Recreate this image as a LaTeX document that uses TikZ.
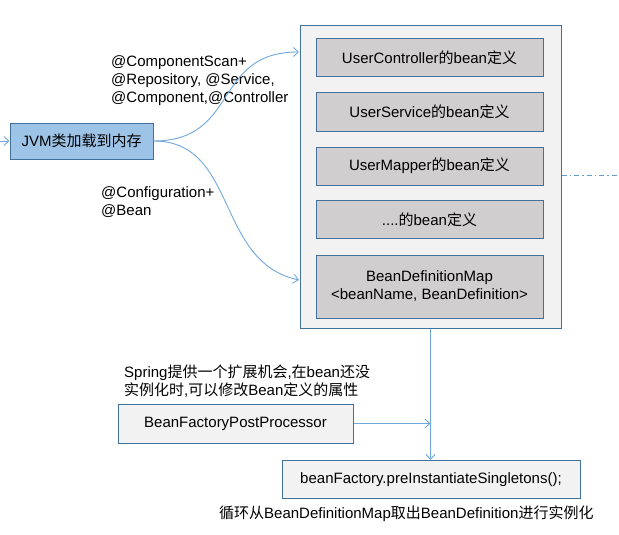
\documentclass[tikz,border=0pt]{standalone}
\usepackage{fontspec}
\setmainfont{Liberation Sans}
\newfontfamily\cjk{Noto Sans CJK SC}
\newcommand{\zh}[1]{{\cjk #1}}
\usetikzlibrary{arrows.meta}

\definecolor{boxline}{HTML}{41719C}
\definecolor{flowblue}{HTML}{6FA8DC}
\definecolor{jvmfill}{HTML}{9DC3E6}
\definecolor{panel}{HTML}{F2F2F2}
\definecolor{defgray}{HTML}{D0CECE}

\tikzset{
  box/.style={draw=boxline, line width=1pt, fill=panel, inner sep=0pt, align=center, font=\fontsize{15}{18}\selectfont},
  defbox/.style={box, fill=defgray, minimum width=227pt, minimum height=38pt},
  flow/.style={draw=flowblue, line width=0.9pt, ->},
  note/.style={inner sep=0pt, align=left, font=\fontsize{15}{18}\selectfont}
}

\begin{document}
\begin{tikzpicture}[x=1pt, y=-1pt, >={Straight Barb[length=5pt,width=9pt]}]
\useasboundingbox (0,0) rectangle (619,535);
\node [box, fill=jvmfill, minimum width=143pt, minimum height=36pt, name=jvm] at (81.5,141) {JVM\zh{类加载到内存}};
\node [box, minimum width=261pt, minimum height=302pt, name=beans] at (430.5,177) {};
\node [defbox, name=ctrldef] at (429.5,58) {UserController\zh{的}bean\zh{定义}};
\node [defbox, name=servdef] at (429.5,112) {UserService\zh{的}bean\zh{定义}};
\node [defbox, name=mapperdef] at (429.5,166) {UserMapper\zh{的}bean\zh{定义}};
\node [defbox, name=moredef] at (429.5,219.5) {....\zh{的}bean\zh{定义}};
\node [defbox, minimum height=63pt, name=defmap] at (429.5,286.5) {BeanDefinitionMap\\<beanName, BeanDefinition>};
\node [box, minimum width=235pt, minimum height=39pt, name=postproc] at (235.5,423.5) {BeanFactoryPostProcessor};
\node [box, minimum width=298pt, minimum height=38pt, name=preinst] at (431,479.5) {beanFactory.preInstantiateSingletons();};

\node [note, anchor=north west, name=scanlabel] at (111,55) {@ComponentScan+\\@Repository, @Service,\\@Component,@Controller};
\node [note, anchor=north west, name=configlabel] at (101,186) {@Configuration+\\@Bean};
\node [note, anchor=north west, name=springnote] at (124,365) {Spring\zh{提供一个扩展机会},\zh{在}bean\zh{还没}\\\zh{实例化时},\zh{可以修改}Bean\zh{定义的属性}};
\node [note, anchor=base west, name=loopnote] at (219,518) {\zh{循环从}BeanDefinitionMap\zh{取出}BeanDefinition\zh{进行实例化}};

\coordinate (leftedge) at (0,141);
\coordinate (rightedge) at (619,175);
\coordinate (topin) at (299,52);
\coordinate (mapin) at (299,280);

\draw [flow] (leftedge) -- (jvm.west);
\draw [flow] (jvm.east) .. controls (240,141) and (212,52) .. (topin);
\draw [flow] (jvm.east) .. controls (238,141) and (215,262) .. (mapin);
\draw [draw=flowblue!80!boxline, line width=1pt, dash pattern=on 5pt off 3pt on 1.5pt off 3pt] (beans.east |- rightedge) -- (rightedge);
\draw [flow] (beans.south) -- (preinst.north -| beans.south);
\draw [flow] (postproc.east) -- (postproc.east -| beans.south);
\end{tikzpicture}
\end{document}
